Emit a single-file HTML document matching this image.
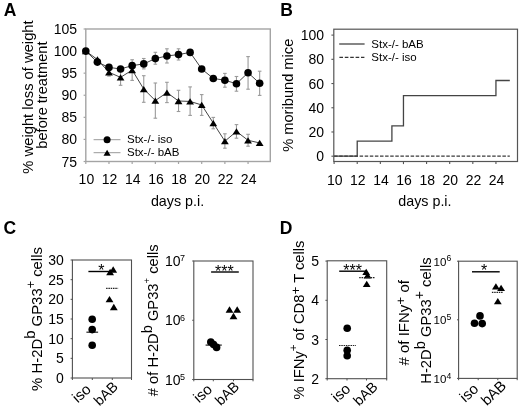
<!DOCTYPE html>
<html><head><meta charset="utf-8"><style>
html,body{margin:0;padding:0;background:#fff;}
svg{display:block;font-family:"Liberation Sans", sans-serif;filter:grayscale(1);}
</style></head><body>
<svg width="520" height="408" viewBox="0 0 520 408">
<rect width="520" height="408" fill="#fff"/>
<text x="3.70" y="15.60" font-size="17.5" text-anchor="start" font-weight="bold" fill="#000">A</text>
<rect x="85.80" y="29.00" width="184.50" height="132.50" fill="none" stroke="#a4a4a4" stroke-width="1.4"/>
<line x1="83.60" y1="161.50" x2="85.80" y2="161.50" stroke="#a4a4a4" stroke-width="1.2"/>
<text x="77.00" y="166.50" font-size="14" text-anchor="end" font-weight="normal" fill="#000">75</text>
<line x1="83.60" y1="139.41" x2="85.80" y2="139.41" stroke="#a4a4a4" stroke-width="1.2"/>
<text x="77.00" y="144.41" font-size="14" text-anchor="end" font-weight="normal" fill="#000">80</text>
<line x1="83.60" y1="117.33" x2="85.80" y2="117.33" stroke="#a4a4a4" stroke-width="1.2"/>
<text x="77.00" y="122.33" font-size="14" text-anchor="end" font-weight="normal" fill="#000">85</text>
<line x1="83.60" y1="95.25" x2="85.80" y2="95.25" stroke="#a4a4a4" stroke-width="1.2"/>
<text x="77.00" y="100.25" font-size="14" text-anchor="end" font-weight="normal" fill="#000">90</text>
<line x1="83.60" y1="73.16" x2="85.80" y2="73.16" stroke="#a4a4a4" stroke-width="1.2"/>
<text x="77.00" y="78.16" font-size="14" text-anchor="end" font-weight="normal" fill="#000">95</text>
<line x1="83.60" y1="51.08" x2="85.80" y2="51.08" stroke="#a4a4a4" stroke-width="1.2"/>
<text x="77.00" y="56.08" font-size="14" text-anchor="end" font-weight="normal" fill="#000">100</text>
<line x1="83.60" y1="28.99" x2="85.80" y2="28.99" stroke="#a4a4a4" stroke-width="1.2"/>
<text x="77.00" y="33.99" font-size="14" text-anchor="end" font-weight="normal" fill="#000">105</text>
<line x1="85.80" y1="161.50" x2="85.80" y2="164.00" stroke="#a4a4a4" stroke-width="1.2"/>
<text x="86.40" y="184.40" font-size="14" text-anchor="middle" font-weight="normal" fill="#000">10</text>
<line x1="108.98" y1="161.50" x2="108.98" y2="164.00" stroke="#a4a4a4" stroke-width="1.2"/>
<text x="109.58" y="184.40" font-size="14" text-anchor="middle" font-weight="normal" fill="#000">12</text>
<line x1="132.16" y1="161.50" x2="132.16" y2="164.00" stroke="#a4a4a4" stroke-width="1.2"/>
<text x="132.76" y="184.40" font-size="14" text-anchor="middle" font-weight="normal" fill="#000">14</text>
<line x1="155.34" y1="161.50" x2="155.34" y2="164.00" stroke="#a4a4a4" stroke-width="1.2"/>
<text x="155.94" y="184.40" font-size="14" text-anchor="middle" font-weight="normal" fill="#000">16</text>
<line x1="178.52" y1="161.50" x2="178.52" y2="164.00" stroke="#a4a4a4" stroke-width="1.2"/>
<text x="179.12" y="184.40" font-size="14" text-anchor="middle" font-weight="normal" fill="#000">18</text>
<line x1="201.70" y1="161.50" x2="201.70" y2="164.00" stroke="#a4a4a4" stroke-width="1.2"/>
<text x="202.30" y="184.40" font-size="14" text-anchor="middle" font-weight="normal" fill="#000">20</text>
<line x1="224.88" y1="161.50" x2="224.88" y2="164.00" stroke="#a4a4a4" stroke-width="1.2"/>
<text x="225.48" y="184.40" font-size="14" text-anchor="middle" font-weight="normal" fill="#000">22</text>
<line x1="248.06" y1="161.50" x2="248.06" y2="164.00" stroke="#a4a4a4" stroke-width="1.2"/>
<text x="248.66" y="184.40" font-size="14" text-anchor="middle" font-weight="normal" fill="#000">24</text>
<text x="177.50" y="206.40" font-size="14.3" text-anchor="middle" font-weight="normal" fill="#000">days p.i.</text>
<text x="33.00" y="97.00" font-size="14.75" text-anchor="middle" font-weight="normal" fill="#000" transform="rotate(-90 33.0 97.0)">% weight loss of weight</text>
<text x="46.60" y="95.10" font-size="14.6" text-anchor="middle" font-weight="normal" fill="#000" transform="rotate(-90 46.6 95.1)">before treatment</text>
<line x1="143.75" y1="58.50" x2="143.75" y2="68.90" stroke="#9a9a9a" stroke-width="1.1"/>
<line x1="141.95" y1="58.50" x2="145.55" y2="58.50" stroke="#9a9a9a" stroke-width="1.1"/>
<line x1="141.95" y1="68.90" x2="145.55" y2="68.90" stroke="#9a9a9a" stroke-width="1.1"/>
<line x1="155.34" y1="52.30" x2="155.34" y2="64.20" stroke="#9a9a9a" stroke-width="1.1"/>
<line x1="153.54" y1="52.30" x2="157.14" y2="52.30" stroke="#9a9a9a" stroke-width="1.1"/>
<line x1="153.54" y1="64.20" x2="157.14" y2="64.20" stroke="#9a9a9a" stroke-width="1.1"/>
<line x1="166.93" y1="48.80" x2="166.93" y2="63.00" stroke="#9a9a9a" stroke-width="1.1"/>
<line x1="165.13" y1="48.80" x2="168.73" y2="48.80" stroke="#9a9a9a" stroke-width="1.1"/>
<line x1="165.13" y1="63.00" x2="168.73" y2="63.00" stroke="#9a9a9a" stroke-width="1.1"/>
<line x1="178.52" y1="48.80" x2="178.52" y2="60.00" stroke="#9a9a9a" stroke-width="1.1"/>
<line x1="176.72" y1="48.80" x2="180.32" y2="48.80" stroke="#9a9a9a" stroke-width="1.1"/>
<line x1="176.72" y1="60.00" x2="180.32" y2="60.00" stroke="#9a9a9a" stroke-width="1.1"/>
<line x1="224.88" y1="73.40" x2="224.88" y2="87.20" stroke="#9a9a9a" stroke-width="1.1"/>
<line x1="223.08" y1="73.40" x2="226.68" y2="73.40" stroke="#9a9a9a" stroke-width="1.1"/>
<line x1="223.08" y1="87.20" x2="226.68" y2="87.20" stroke="#9a9a9a" stroke-width="1.1"/>
<line x1="236.47" y1="76.50" x2="236.47" y2="91.20" stroke="#9a9a9a" stroke-width="1.1"/>
<line x1="234.67" y1="76.50" x2="238.27" y2="76.50" stroke="#9a9a9a" stroke-width="1.1"/>
<line x1="234.67" y1="91.20" x2="238.27" y2="91.20" stroke="#9a9a9a" stroke-width="1.1"/>
<line x1="248.06" y1="56.60" x2="248.06" y2="89.20" stroke="#9a9a9a" stroke-width="1.1"/>
<line x1="246.26" y1="56.60" x2="249.86" y2="56.60" stroke="#9a9a9a" stroke-width="1.1"/>
<line x1="246.26" y1="89.20" x2="249.86" y2="89.20" stroke="#9a9a9a" stroke-width="1.1"/>
<line x1="259.65" y1="71.20" x2="259.65" y2="95.40" stroke="#9a9a9a" stroke-width="1.1"/>
<line x1="257.85" y1="71.20" x2="261.45" y2="71.20" stroke="#9a9a9a" stroke-width="1.1"/>
<line x1="257.85" y1="95.40" x2="261.45" y2="95.40" stroke="#9a9a9a" stroke-width="1.1"/>
<line x1="108.98" y1="68.45" x2="108.98" y2="76.10" stroke="#9a9a9a" stroke-width="1.1"/>
<line x1="107.18" y1="68.45" x2="110.78" y2="68.45" stroke="#9a9a9a" stroke-width="1.1"/>
<line x1="107.18" y1="76.10" x2="110.78" y2="76.10" stroke="#9a9a9a" stroke-width="1.1"/>
<line x1="120.57" y1="69.41" x2="120.57" y2="85.30" stroke="#9a9a9a" stroke-width="1.1"/>
<line x1="118.77" y1="69.41" x2="122.37" y2="69.41" stroke="#9a9a9a" stroke-width="1.1"/>
<line x1="118.77" y1="85.30" x2="122.37" y2="85.30" stroke="#9a9a9a" stroke-width="1.1"/>
<line x1="132.16" y1="59.74" x2="132.16" y2="80.40" stroke="#9a9a9a" stroke-width="1.1"/>
<line x1="130.36" y1="59.74" x2="133.96" y2="59.74" stroke="#9a9a9a" stroke-width="1.1"/>
<line x1="130.36" y1="80.40" x2="133.96" y2="80.40" stroke="#9a9a9a" stroke-width="1.1"/>
<line x1="143.75" y1="75.70" x2="143.75" y2="102.30" stroke="#9a9a9a" stroke-width="1.1"/>
<line x1="141.95" y1="75.70" x2="145.55" y2="75.70" stroke="#9a9a9a" stroke-width="1.1"/>
<line x1="141.95" y1="102.30" x2="145.55" y2="102.30" stroke="#9a9a9a" stroke-width="1.1"/>
<line x1="155.34" y1="83.00" x2="155.34" y2="118.20" stroke="#9a9a9a" stroke-width="1.1"/>
<line x1="153.54" y1="83.00" x2="157.14" y2="83.00" stroke="#9a9a9a" stroke-width="1.1"/>
<line x1="153.54" y1="118.20" x2="157.14" y2="118.20" stroke="#9a9a9a" stroke-width="1.1"/>
<line x1="166.93" y1="82.30" x2="166.93" y2="102.60" stroke="#9a9a9a" stroke-width="1.1"/>
<line x1="165.13" y1="82.30" x2="168.73" y2="82.30" stroke="#9a9a9a" stroke-width="1.1"/>
<line x1="165.13" y1="102.60" x2="168.73" y2="102.60" stroke="#9a9a9a" stroke-width="1.1"/>
<line x1="178.52" y1="90.30" x2="178.52" y2="111.50" stroke="#9a9a9a" stroke-width="1.1"/>
<line x1="176.72" y1="90.30" x2="180.32" y2="90.30" stroke="#9a9a9a" stroke-width="1.1"/>
<line x1="176.72" y1="111.50" x2="180.32" y2="111.50" stroke="#9a9a9a" stroke-width="1.1"/>
<line x1="190.11" y1="86.90" x2="190.11" y2="115.40" stroke="#9a9a9a" stroke-width="1.1"/>
<line x1="188.31" y1="86.90" x2="191.91" y2="86.90" stroke="#9a9a9a" stroke-width="1.1"/>
<line x1="188.31" y1="115.40" x2="191.91" y2="115.40" stroke="#9a9a9a" stroke-width="1.1"/>
<line x1="201.70" y1="94.60" x2="201.70" y2="115.40" stroke="#9a9a9a" stroke-width="1.1"/>
<line x1="199.90" y1="94.60" x2="203.50" y2="94.60" stroke="#9a9a9a" stroke-width="1.1"/>
<line x1="199.90" y1="115.40" x2="203.50" y2="115.40" stroke="#9a9a9a" stroke-width="1.1"/>
<line x1="213.29" y1="117.40" x2="213.29" y2="128.80" stroke="#9a9a9a" stroke-width="1.1"/>
<line x1="211.49" y1="117.40" x2="215.09" y2="117.40" stroke="#9a9a9a" stroke-width="1.1"/>
<line x1="211.49" y1="128.80" x2="215.09" y2="128.80" stroke="#9a9a9a" stroke-width="1.1"/>
<line x1="224.88" y1="133.80" x2="224.88" y2="148.20" stroke="#9a9a9a" stroke-width="1.1"/>
<line x1="223.08" y1="133.80" x2="226.68" y2="133.80" stroke="#9a9a9a" stroke-width="1.1"/>
<line x1="223.08" y1="148.20" x2="226.68" y2="148.20" stroke="#9a9a9a" stroke-width="1.1"/>
<line x1="236.47" y1="124.60" x2="236.47" y2="138.20" stroke="#9a9a9a" stroke-width="1.1"/>
<line x1="234.67" y1="124.60" x2="238.27" y2="124.60" stroke="#9a9a9a" stroke-width="1.1"/>
<line x1="234.67" y1="138.20" x2="238.27" y2="138.20" stroke="#9a9a9a" stroke-width="1.1"/>
<line x1="248.06" y1="134.30" x2="248.06" y2="146.20" stroke="#9a9a9a" stroke-width="1.1"/>
<line x1="246.26" y1="134.30" x2="249.86" y2="134.30" stroke="#9a9a9a" stroke-width="1.1"/>
<line x1="246.26" y1="146.20" x2="249.86" y2="146.20" stroke="#9a9a9a" stroke-width="1.1"/>
<polyline points="85.80,51.08 97.39,59.47 108.98,72.28 120.57,77.36 132.16,70.07 143.75,89.06 155.34,100.55 166.93,92.59 178.52,100.99 190.11,101.43 201.70,104.96 213.29,123.07 224.88,141.18 236.47,131.46 248.06,140.30 259.65,142.95" fill="none" stroke="#444" stroke-width="1"/>
<polyline points="85.80,51.08 97.39,62.12 108.98,67.42 120.57,68.96 132.16,65.65 143.75,63.88 155.34,58.58 166.93,55.93 178.52,54.61 190.11,52.40 201.70,68.96 213.29,78.46 224.88,80.23 236.47,83.76 248.06,72.72 259.65,83.32" fill="none" stroke="#444" stroke-width="1"/>
<polygon points="81.90,54.23 89.70,54.23 85.80,47.93" fill="#000"/>
<polygon points="93.49,62.62 101.29,62.62 97.39,56.32" fill="#000"/>
<polygon points="105.08,75.43 112.88,75.43 108.98,69.13" fill="#000"/>
<polygon points="116.67,80.51 124.47,80.51 120.57,74.21" fill="#000"/>
<polygon points="128.26,73.22 136.06,73.22 132.16,66.92" fill="#000"/>
<polygon points="139.85,92.21 147.65,92.21 143.75,85.91" fill="#000"/>
<polygon points="151.44,103.70 159.24,103.70 155.34,97.40" fill="#000"/>
<polygon points="163.03,95.74 170.83,95.74 166.93,89.44" fill="#000"/>
<polygon points="174.62,104.14 182.42,104.14 178.52,97.84" fill="#000"/>
<polygon points="186.21,104.58 194.01,104.58 190.11,98.28" fill="#000"/>
<polygon points="197.80,108.11 205.60,108.11 201.70,101.81" fill="#000"/>
<polygon points="209.39,126.22 217.19,126.22 213.29,119.92" fill="#000"/>
<polygon points="220.98,144.33 228.78,144.33 224.88,138.03" fill="#000"/>
<polygon points="232.57,134.61 240.37,134.61 236.47,128.31" fill="#000"/>
<polygon points="244.16,143.45 251.96,143.45 248.06,137.15" fill="#000"/>
<polygon points="255.75,146.10 263.55,146.10 259.65,139.80" fill="#000"/>
<circle cx="85.80" cy="51.08" r="3.8" fill="#000"/>
<circle cx="97.39" cy="62.12" r="3.8" fill="#000"/>
<circle cx="108.98" cy="67.42" r="3.8" fill="#000"/>
<circle cx="120.57" cy="68.96" r="3.8" fill="#000"/>
<circle cx="132.16" cy="65.65" r="3.8" fill="#000"/>
<circle cx="143.75" cy="63.88" r="3.8" fill="#000"/>
<circle cx="155.34" cy="58.58" r="3.8" fill="#000"/>
<circle cx="166.93" cy="55.93" r="3.8" fill="#000"/>
<circle cx="178.52" cy="54.61" r="3.8" fill="#000"/>
<circle cx="190.11" cy="52.40" r="3.8" fill="#000"/>
<circle cx="201.70" cy="68.96" r="3.8" fill="#000"/>
<circle cx="213.29" cy="78.46" r="3.8" fill="#000"/>
<circle cx="224.88" cy="80.23" r="3.8" fill="#000"/>
<circle cx="236.47" cy="83.76" r="3.8" fill="#000"/>
<circle cx="248.06" cy="72.72" r="3.8" fill="#000"/>
<circle cx="259.65" cy="83.32" r="3.8" fill="#000"/>
<line x1="93.60" y1="139.70" x2="120.50" y2="139.70" stroke="#999" stroke-width="1"/>
<circle cx="107.10" cy="139.70" r="3.5" fill="#000"/>
<text x="127.00" y="143.40" font-size="11.5" text-anchor="start" font-weight="normal" fill="#000">Stx-/- iso</text>
<line x1="93.60" y1="152.70" x2="120.50" y2="152.70" stroke="#999" stroke-width="1"/>
<polygon points="103.50,155.70 110.70,155.70 107.10,149.70" fill="#000"/>
<text x="127.00" y="156.40" font-size="11.5" text-anchor="start" font-weight="normal" fill="#000">Stx-/- bAB</text>
<text x="280.30" y="15.60" font-size="17.5" text-anchor="start" font-weight="bold" fill="#000">B</text>
<rect x="333.80" y="29.20" width="183.70" height="132.30" fill="none" stroke="#555" stroke-width="1.2"/>
<line x1="331.40" y1="156.20" x2="333.80" y2="156.20" stroke="#555" stroke-width="1.1"/>
<text x="324.00" y="161.20" font-size="14" text-anchor="end" font-weight="normal" fill="#000">0</text>
<line x1="331.40" y1="131.98" x2="333.80" y2="131.98" stroke="#555" stroke-width="1.1"/>
<text x="324.00" y="136.98" font-size="14" text-anchor="end" font-weight="normal" fill="#000">20</text>
<line x1="331.40" y1="107.76" x2="333.80" y2="107.76" stroke="#555" stroke-width="1.1"/>
<text x="324.00" y="112.76" font-size="14" text-anchor="end" font-weight="normal" fill="#000">40</text>
<line x1="331.40" y1="83.54" x2="333.80" y2="83.54" stroke="#555" stroke-width="1.1"/>
<text x="324.00" y="88.54" font-size="14" text-anchor="end" font-weight="normal" fill="#000">60</text>
<line x1="331.40" y1="59.32" x2="333.80" y2="59.32" stroke="#555" stroke-width="1.1"/>
<text x="324.00" y="64.32" font-size="14" text-anchor="end" font-weight="normal" fill="#000">80</text>
<line x1="331.40" y1="35.10" x2="333.80" y2="35.10" stroke="#555" stroke-width="1.1"/>
<text x="324.00" y="40.10" font-size="14" text-anchor="end" font-weight="normal" fill="#000">100</text>
<line x1="334.10" y1="161.50" x2="334.10" y2="164.10" stroke="#555" stroke-width="1.1"/>
<text x="334.70" y="184.60" font-size="14" text-anchor="middle" font-weight="normal" fill="#000">10</text>
<line x1="357.22" y1="161.50" x2="357.22" y2="164.10" stroke="#555" stroke-width="1.1"/>
<text x="357.82" y="184.60" font-size="14" text-anchor="middle" font-weight="normal" fill="#000">12</text>
<line x1="380.34" y1="161.50" x2="380.34" y2="164.10" stroke="#555" stroke-width="1.1"/>
<text x="380.94" y="184.60" font-size="14" text-anchor="middle" font-weight="normal" fill="#000">14</text>
<line x1="403.46" y1="161.50" x2="403.46" y2="164.10" stroke="#555" stroke-width="1.1"/>
<text x="404.06" y="184.60" font-size="14" text-anchor="middle" font-weight="normal" fill="#000">16</text>
<line x1="426.58" y1="161.50" x2="426.58" y2="164.10" stroke="#555" stroke-width="1.1"/>
<text x="427.18" y="184.60" font-size="14" text-anchor="middle" font-weight="normal" fill="#000">18</text>
<line x1="449.70" y1="161.50" x2="449.70" y2="164.10" stroke="#555" stroke-width="1.1"/>
<text x="450.30" y="184.60" font-size="14" text-anchor="middle" font-weight="normal" fill="#000">20</text>
<line x1="472.82" y1="161.50" x2="472.82" y2="164.10" stroke="#555" stroke-width="1.1"/>
<text x="473.42" y="184.60" font-size="14" text-anchor="middle" font-weight="normal" fill="#000">22</text>
<line x1="495.94" y1="161.50" x2="495.94" y2="164.10" stroke="#555" stroke-width="1.1"/>
<text x="496.54" y="184.60" font-size="14" text-anchor="middle" font-weight="normal" fill="#000">24</text>
<text x="424.90" y="206.40" font-size="14.3" text-anchor="middle" font-weight="normal" fill="#000">days p.i.</text>
<text x="292.60" y="95.25" font-size="14.65" text-anchor="middle" font-weight="normal" fill="#000" transform="rotate(-90 292.6 95.25)">% moribund mice</text>
<polyline points="334.10,156.20 357.22,156.20 357.22,141.06 391.90,141.06 391.90,125.92 403.46,125.92 403.46,95.65 495.94,95.65 495.94,80.51 509.81,80.51" fill="none" stroke="#444" stroke-width="1.3"/>
<line x1="334.10" y1="156.20" x2="509.81" y2="156.20" stroke="#3a3a3a" stroke-width="1.2" stroke-dasharray="3.5,1.6"/>
<line x1="339.20" y1="44.00" x2="364.60" y2="44.00" stroke="#444" stroke-width="1.3"/>
<text x="371.30" y="47.60" font-size="11.5" text-anchor="start" font-weight="normal" fill="#000">Stx-/- bAB</text>
<line x1="339.40" y1="57.40" x2="364.40" y2="57.40" stroke="#333" stroke-width="1.2" stroke-dasharray="3.6,1.8"/>
<text x="371.30" y="61.00" font-size="11.5" text-anchor="start" font-weight="normal" fill="#000">Stx-/- iso</text>
<text x="3.60" y="233.60" font-size="17.5" text-anchor="start" font-weight="bold" fill="#000">C</text>
<rect x="72.40" y="260.00" width="59.10" height="118.00" fill="none" stroke="#505050" stroke-width="1.1"/>
<line x1="70.60" y1="378.00" x2="72.40" y2="378.00" stroke="#505050" stroke-width="1"/>
<text x="63.80" y="383.00" font-size="14" text-anchor="end" font-weight="normal" fill="#000">0</text>
<line x1="70.60" y1="358.33" x2="72.40" y2="358.33" stroke="#505050" stroke-width="1"/>
<text x="63.80" y="363.33" font-size="14" text-anchor="end" font-weight="normal" fill="#000">5</text>
<line x1="70.60" y1="338.67" x2="72.40" y2="338.67" stroke="#505050" stroke-width="1"/>
<text x="63.80" y="343.67" font-size="14" text-anchor="end" font-weight="normal" fill="#000">10</text>
<line x1="70.60" y1="319.00" x2="72.40" y2="319.00" stroke="#505050" stroke-width="1"/>
<text x="63.80" y="324.00" font-size="14" text-anchor="end" font-weight="normal" fill="#000">15</text>
<line x1="70.60" y1="299.34" x2="72.40" y2="299.34" stroke="#505050" stroke-width="1"/>
<text x="63.80" y="304.34" font-size="14" text-anchor="end" font-weight="normal" fill="#000">20</text>
<line x1="70.60" y1="279.68" x2="72.40" y2="279.68" stroke="#505050" stroke-width="1"/>
<text x="63.80" y="284.68" font-size="14" text-anchor="end" font-weight="normal" fill="#000">25</text>
<line x1="70.60" y1="260.01" x2="72.40" y2="260.01" stroke="#505050" stroke-width="1"/>
<text x="63.80" y="265.01" font-size="14" text-anchor="end" font-weight="normal" fill="#000">30</text>
<line x1="72.40" y1="378.00" x2="72.40" y2="380.00" stroke="#505050" stroke-width="1"/>
<line x1="92.30" y1="378.00" x2="92.30" y2="380.00" stroke="#505050" stroke-width="1"/>
<line x1="112.30" y1="378.00" x2="112.30" y2="380.00" stroke="#505050" stroke-width="1"/>
<line x1="131.50" y1="378.00" x2="131.50" y2="380.00" stroke="#505050" stroke-width="1"/>
<line x1="86.40" y1="332.20" x2="98.10" y2="332.20" stroke="#222" stroke-width="1.2"/>
<circle cx="92.20" cy="319.30" r="3.8" fill="#000"/>
<circle cx="92.20" cy="329.60" r="3.8" fill="#000"/>
<circle cx="92.20" cy="345.30" r="3.8" fill="#000"/>
<polygon points="106.20,275.15 114.00,275.15 110.10,268.85" fill="#000"/>
<polygon points="109.30,272.65 117.10,272.65 113.20,266.35" fill="#000"/>
<polygon points="105.60,302.35 113.40,302.35 109.50,296.05" fill="#000"/>
<polygon points="109.90,310.15 117.70,310.15 113.80,303.85" fill="#000"/>
<line x1="106.10" y1="288.40" x2="118.10" y2="288.40" stroke="#222" stroke-width="1.2" stroke-dasharray="1.5,0.8"/>
<line x1="88.40" y1="271.50" x2="110.50" y2="271.50" stroke="#000" stroke-width="1.4"/>
<text x="101.30" y="275.60" font-size="16" text-anchor="middle" font-weight="normal" fill="#000">*</text>
<text x="41.80" y="319.00" text-anchor="middle" transform="rotate(-90 41.80 319.00)"><tspan font-size="14.9" dy="0">% H-2D</tspan><tspan font-size="14.9" dy="-6.3">b</tspan><tspan font-size="14.9" dy="6.3"> GP33</tspan><tspan font-size="12.5" dy="-7.2">+</tspan><tspan font-size="14.9" dy="7.2"> cells</tspan></text>
<rect x="193.80" y="261.00" width="59.20" height="118.50" fill="none" stroke="#505050" stroke-width="1.1"/>
<line x1="192.20" y1="379.50" x2="193.80" y2="379.50" stroke="#505050" stroke-width="1"/>
<text x="180.6" y="384.50" font-size="14" text-anchor="end">10</text>
<text x="179.9" y="379.80" font-size="9">5</text>
<line x1="192.20" y1="320.25" x2="193.80" y2="320.25" stroke="#505050" stroke-width="1"/>
<text x="180.6" y="325.25" font-size="14" text-anchor="end">10</text>
<text x="179.9" y="320.55" font-size="9">6</text>
<line x1="192.20" y1="261.00" x2="193.80" y2="261.00" stroke="#505050" stroke-width="1"/>
<text x="180.6" y="266.00" font-size="14" text-anchor="end">10</text>
<text x="179.9" y="261.30" font-size="9">7</text>
<line x1="193.80" y1="379.50" x2="193.80" y2="381.30" stroke="#505050" stroke-width="1"/>
<line x1="213.30" y1="379.50" x2="213.30" y2="381.30" stroke="#505050" stroke-width="1"/>
<line x1="233.50" y1="379.50" x2="233.50" y2="381.30" stroke="#505050" stroke-width="1"/>
<line x1="253.00" y1="379.50" x2="253.00" y2="381.30" stroke="#505050" stroke-width="1"/>
<line x1="205.60" y1="345.10" x2="221.80" y2="345.10" stroke="#222" stroke-width="1.2"/>
<circle cx="210.80" cy="342.00" r="3.8" fill="#000"/>
<circle cx="213.60" cy="344.60" r="3.8" fill="#000"/>
<circle cx="216.60" cy="347.40" r="3.8" fill="#000"/>
<polygon points="225.60,312.65 233.40,312.65 229.50,306.35" fill="#000"/>
<polygon points="233.30,312.65 241.10,312.65 237.20,306.35" fill="#000"/>
<polygon points="229.60,319.15 237.40,319.15 233.50,312.85" fill="#000"/>
<line x1="211.10" y1="272.00" x2="238.80" y2="272.00" stroke="#000" stroke-width="1.4"/>
<text x="224.30" y="276.60" font-size="16" text-anchor="middle" font-weight="normal" fill="#000">***</text>
<text x="157.60" y="320.30" text-anchor="middle" transform="rotate(-90 157.60 320.30)"><tspan font-size="14.7" dy="0"># of H-2D</tspan><tspan font-size="14.6" dy="-5.8">b</tspan><tspan font-size="14.7" dy="5.8"> GP33</tspan><tspan font-size="9.5" dy="-8.0">+</tspan><tspan font-size="14.7" dy="8.0"> cells</tspan></text>
<text x="279.70" y="233.60" font-size="17.5" text-anchor="start" font-weight="bold" fill="#000">D</text>
<rect x="327.20" y="260.80" width="59.50" height="117.90" fill="none" stroke="#505050" stroke-width="1.1"/>
<line x1="325.40" y1="378.70" x2="327.20" y2="378.70" stroke="#505050" stroke-width="1"/>
<text x="319.00" y="383.70" font-size="14" text-anchor="end" font-weight="normal" fill="#000">2</text>
<line x1="325.40" y1="339.50" x2="327.20" y2="339.50" stroke="#505050" stroke-width="1"/>
<text x="319.00" y="344.50" font-size="14" text-anchor="end" font-weight="normal" fill="#000">3</text>
<line x1="325.40" y1="300.30" x2="327.20" y2="300.30" stroke="#505050" stroke-width="1"/>
<text x="319.00" y="305.30" font-size="14" text-anchor="end" font-weight="normal" fill="#000">4</text>
<line x1="325.40" y1="261.10" x2="327.20" y2="261.10" stroke="#505050" stroke-width="1"/>
<text x="319.00" y="266.10" font-size="14" text-anchor="end" font-weight="normal" fill="#000">5</text>
<line x1="327.20" y1="378.70" x2="327.20" y2="380.50" stroke="#505050" stroke-width="1"/>
<line x1="347.00" y1="378.70" x2="347.00" y2="380.50" stroke="#505050" stroke-width="1"/>
<line x1="366.50" y1="378.70" x2="366.50" y2="380.50" stroke="#505050" stroke-width="1"/>
<line x1="386.70" y1="378.70" x2="386.70" y2="380.50" stroke="#505050" stroke-width="1"/>
<circle cx="347.20" cy="328.20" r="3.8" fill="#000"/>
<circle cx="347.20" cy="350.20" r="3.8" fill="#000"/>
<circle cx="347.20" cy="355.80" r="3.8" fill="#000"/>
<line x1="339.00" y1="345.50" x2="355.90" y2="345.50" stroke="#222" stroke-width="1.2" stroke-dasharray="1.5,0.8"/>
<polygon points="362.30,274.95 370.10,274.95 366.20,268.65" fill="#000"/>
<polygon points="363.70,278.55 371.50,278.55 367.60,272.25" fill="#000"/>
<polygon points="362.80,287.05 370.60,287.05 366.70,280.75" fill="#000"/>
<line x1="359.20" y1="277.70" x2="375.10" y2="277.70" stroke="#222" stroke-width="1.2" stroke-dasharray="1.5,0.8"/>
<line x1="339.20" y1="271.20" x2="366.20" y2="271.20" stroke="#000" stroke-width="1.4"/>
<text x="352.70" y="275.70" font-size="16" text-anchor="middle" font-weight="normal" fill="#000">***</text>
<text x="303.80" y="320.00" text-anchor="middle" transform="rotate(-90 303.80 320.00)"><tspan font-size="14.72" dy="0">% IFNy</tspan><tspan font-size="11.5" dy="-6.8">+</tspan><tspan font-size="14.72" dy="6.8"> of CD8</tspan><tspan font-size="13.5" dy="-4.2">+</tspan><tspan font-size="14.72" dy="4.2"> T cells</tspan></text>
<rect x="458.60" y="261.20" width="58.60" height="117.20" fill="none" stroke="#505050" stroke-width="1.1"/>
<line x1="457.00" y1="378.40" x2="458.60" y2="378.40" stroke="#505050" stroke-width="1"/>
<text x="446.4" y="382.90" font-size="11.5" text-anchor="end">10</text>
<text x="446.5" y="378.60" font-size="8.6">4</text>
<line x1="457.00" y1="319.80" x2="458.60" y2="319.80" stroke="#505050" stroke-width="1"/>
<text x="446.4" y="324.30" font-size="11.5" text-anchor="end">10</text>
<text x="446.5" y="320.00" font-size="8.6">5</text>
<line x1="457.00" y1="261.20" x2="458.60" y2="261.20" stroke="#505050" stroke-width="1"/>
<text x="446.4" y="265.70" font-size="11.5" text-anchor="end">10</text>
<text x="446.5" y="261.40" font-size="8.6">6</text>
<line x1="458.60" y1="378.40" x2="458.60" y2="380.20" stroke="#505050" stroke-width="1"/>
<line x1="478.20" y1="378.40" x2="478.20" y2="380.20" stroke="#505050" stroke-width="1"/>
<line x1="497.80" y1="378.40" x2="497.80" y2="380.20" stroke="#505050" stroke-width="1"/>
<line x1="517.20" y1="378.40" x2="517.20" y2="380.20" stroke="#505050" stroke-width="1"/>
<circle cx="480.00" cy="315.90" r="3.8" fill="#000"/>
<circle cx="474.50" cy="323.20" r="3.8" fill="#000"/>
<circle cx="482.20" cy="323.60" r="3.8" fill="#000"/>
<polygon points="492.00,289.55 499.80,289.55 495.90,283.25" fill="#000"/>
<polygon points="497.20,290.95 505.00,290.95 501.10,284.65" fill="#000"/>
<polygon points="493.90,304.25 501.70,304.25 497.80,297.95" fill="#000"/>
<line x1="491.90" y1="292.40" x2="502.90" y2="292.40" stroke="#222" stroke-width="1.2" stroke-dasharray="1.5,0.8"/>
<line x1="472.00" y1="271.80" x2="499.70" y2="271.80" stroke="#000" stroke-width="1.4"/>
<text x="484.10" y="275.90" font-size="16" text-anchor="middle" font-weight="normal" fill="#000">*</text>
<text x="409.00" y="322.80" text-anchor="middle" transform="rotate(-90 409.00 322.80)"><tspan font-size="15.0" dy="0"># of IFNy</tspan><tspan font-size="13.5" dy="-3.6">+</tspan><tspan font-size="15.0" dy="3.6"> of</tspan></text>
<text x="431.30" y="320.60" text-anchor="middle" transform="rotate(-90 431.30 320.60)"><tspan font-size="14.75" dy="0">H-2D</tspan><tspan font-size="14.85" dy="-5.9">b</tspan><tspan font-size="14.75" dy="5.9"> GP33</tspan><tspan font-size="14" dy="-7.5">+</tspan><tspan font-size="14.75" dy="7.5"> cells</tspan></text>
<text x="77.70" y="403.50" font-size="15" text-anchor="start" transform="rotate(-42 77.70 403.50)">iso</text>
<text x="99.50" y="406.50" font-size="14.3" text-anchor="start" transform="rotate(-44 99.50 406.50)">bAB</text>
<text x="199.00" y="403.50" font-size="15" text-anchor="start" transform="rotate(-42 199.00 403.50)">iso</text>
<text x="220.70" y="406.30" font-size="14.3" text-anchor="start" transform="rotate(-44 220.70 406.30)">bAB</text>
<text x="337.20" y="403.00" font-size="15" text-anchor="start" transform="rotate(-42 337.20 403.00)">iso</text>
<text x="359.10" y="406.60" font-size="14.3" text-anchor="start" transform="rotate(-44 359.10 406.60)">bAB</text>
<text x="465.20" y="403.00" font-size="15" text-anchor="start" transform="rotate(-42 465.20 403.00)">iso</text>
<text x="486.90" y="406.30" font-size="14.8" text-anchor="start" transform="rotate(-44 486.90 406.30)">bAB</text>
</svg>
</body></html>
